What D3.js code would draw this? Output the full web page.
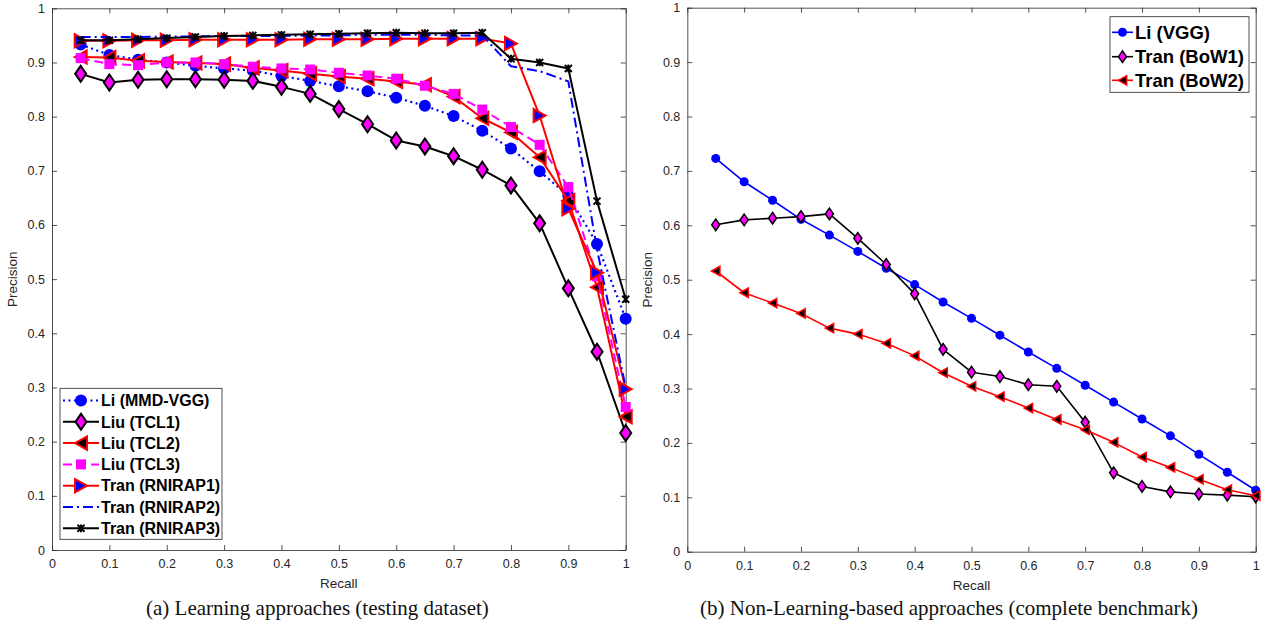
<!DOCTYPE html>
<html><head><meta charset="utf-8">
<script src="https://cdn.jsdelivr.net/npm/d3@7"></script>
<style>
body{margin:0;background:#fff;}
svg text{font-family:"Liberation Sans",Arial,sans-serif;}
</style></head>
<body><svg id="c" width="1270" height="633"></svg>
<script>
const recall = [0.05,0.1,0.15,0.2,0.25,0.3,0.35,0.4,0.45,0.5,0.55,0.6,0.65,0.7,0.75,0.8,0.85,0.9,0.95,1];
const xTicks = [0,0.1,0.2,0.3,0.4,0.5,0.6,0.7,0.8,0.9,1];
const yTicks = [0,0.1,0.2,0.3,0.4,0.5,0.6,0.7,0.8,0.9,1];

// (a) Learning approaches
const liMMD  = [0.933,0.914,0.905,0.900,0.894,0.889,0.885,0.875,0.866,0.856,0.847,0.835,0.820,0.801,0.774,0.741,0.699,0.654,0.565,0.427];
const tcl1   = [0.879,0.863,0.868,0.869,0.869,0.868,0.866,0.855,0.842,0.814,0.786,0.756,0.745,0.727,0.702,0.673,0.603,0.483,0.366,0.216];
const tcl2   = [0.910,0.909,0.903,0.901,0.899,0.897,0.890,0.885,0.879,0.874,0.870,0.865,0.859,0.837,0.797,0.771,0.725,0.645,0.485,0.246];
const tcl3   = [0.908,0.897,0.895,0.900,0.900,0.897,0.892,0.889,0.887,0.881,0.876,0.870,0.857,0.842,0.813,0.781,0.748,0.670,0.505,0.264];
const rnirap1= [0.940,0.940,0.941,0.941,0.942,0.942,0.942,0.942,0.943,0.943,0.943,0.944,0.944,0.944,0.944,0.935,0.802,0.630,0.512,0.297];
const rnirap2= [0.947,0.947,0.947,0.948,0.948,0.949,0.949,0.949,0.950,0.950,0.951,0.951,0.951,0.950,0.950,0.893,0.884,0.865,0.555,0.300];
const rnirap3= [0.941,0.941,0.943,0.945,0.947,0.949,0.950,0.951,0.952,0.953,0.954,0.955,0.954,0.954,0.955,0.907,0.900,0.889,0.644,0.463];
const namesA = ["Li (MMD-VGG)","Liu (TCL1)","Liu (TCL2)","Liu (TCL3)","Tran (RNIRAP1)","Tran (RNIRAP2)","Tran (RNIRAP3)"];

// (b) Non-learning approaches
const liVGG = [0.723,0.680,0.646,0.611,0.582,0.552,0.521,0.491,0.459,0.429,0.398,0.367,0.337,0.306,0.275,0.244,0.213,0.179,0.146,0.113];
const bow1  = [0.601,0.610,0.613,0.616,0.621,0.576,0.528,0.474,0.372,0.330,0.322,0.307,0.304,0.238,0.145,0.120,0.110,0.106,0.104,0.101];
const bow2  = [0.516,0.476,0.457,0.438,0.411,0.400,0.383,0.360,0.329,0.304,0.285,0.264,0.243,0.224,0.201,0.174,0.155,0.133,0.114,0.103];
const namesB = ["Li (VGG)","Tran (BoW1)","Tran (BoW2)"];

const captionA = "(a) Learning approaches (testing dataset)";
const captionB = "(b) Non-Learning-based approaches (complete benchmark)";

const svg = d3.select("#c");
const AX = "#262626";

function marker(g, type, cx, cy, s, fill, stroke, sw){
  let p;
  if(type==="circle"){ g.append("circle").attr("cx",cx).attr("cy",cy).attr("r",s).attr("fill",fill).attr("stroke",stroke).attr("stroke-width",sw); return; }
  if(type==="diamond") p = `M${cx},${cy-s*1.45}L${cx+s},${cy}L${cx},${cy+s*1.45}L${cx-s},${cy}Z`;
  if(type==="square") p = `M${cx-s},${cy-s}h${2*s}v${2*s}h${-2*s}Z`;
  if(type==="tleft") p = `M${cx-s},${cy}L${cx+s},${cy-s*1.1}L${cx+s},${cy+s*1.1}Z`;
  if(type==="tright") p = `M${cx+s},${cy}L${cx-s},${cy-s*1.1}L${cx-s},${cy+s*1.1}Z`;
  if(type==="x"){ g.append("path").attr("d",`M${cx-s},${cy-s}L${cx+s},${cy+s}M${cx-s},${cy+s}L${cx+s},${cy-s}M${cx},${cy-s*1.1}L${cx},${cy+s*1.1}`).attr("stroke",stroke).attr("stroke-width",sw).attr("fill","none"); return; }
  g.append("path").attr("d",p).attr("fill",fill).attr("stroke",stroke).attr("stroke-width",sw).attr("stroke-linejoin","miter");
}

function panel(x0,x1,y0,y1,series,caption,capX){
  const x = d3.scaleLinear().domain([0,1]).range([x0,x1]);
  const y = d3.scaleLinear().domain([0,1]).range([y1,y0]);
  const g = svg.append("g");
  const ax = g.append("g").attr("transform",`translate(0,${y1})`).call(d3.axisBottom(x).tickValues(xTicks).tickFormat(d=>d3.format("")(d)).tickSizeInner(-5).tickSizeOuter(0).tickPadding(9));
  const ay = g.append("g").attr("transform",`translate(${x0},0)`).call(d3.axisLeft(y).tickValues(yTicks).tickFormat(d=>d3.format("")(d)).tickSizeInner(-5).tickSizeOuter(0).tickPadding(7));
  const at = g.append("g").attr("transform",`translate(0,${y0})`).call(d3.axisTop(x).tickValues(xTicks).tickFormat("").tickSizeInner(-5).tickSizeOuter(0));
  const ar = g.append("g").attr("transform",`translate(${x1},0)`).call(d3.axisRight(y).tickValues(yTicks).tickFormat("").tickSizeInner(-5).tickSizeOuter(0));
  [ax,ay,at,ar].forEach(a=>{a.selectAll("path,line").attr("stroke",AX).attr("stroke-width",0.8);
    a.selectAll("text").attr("fill",AX).style("font-size","12.5px").style("font-family","Liberation Sans, Arial, sans-serif");});
  g.append("text").attr("x",(x0+x1)/2).attr("y",y1+38).attr("text-anchor","middle").attr("fill",AX).style("font-size","13.5px").text("Recall");
  g.append("text").attr("transform",`translate(${x0-35},${(y0+y1)/2}) rotate(-90)`).attr("text-anchor","middle").attr("fill",AX).style("font-size","13.5px").text("Precision");
  g.append("text").attr("x",capX).attr("y",615).attr("text-anchor","start").attr("fill","#111").style("font-family","Liberation Serif, Times New Roman, serif").style("font-size","21px").text(caption);
  const clip = g.append("g");
  series.forEach(s=>{
    const line = d3.line().x((d,i)=>x(recall[i])).y(d=>y(d));
    clip.append("path").datum(s.data).attr("d",line).attr("fill","none").attr("stroke",s.color).attr("stroke-width",s.lw).attr("stroke-dasharray",s.dash||null).attr("stroke-linejoin","round");
    if(s.marker){ s.data.forEach((d,i)=>marker(clip,s.marker,x(recall[i]),y(d),s.ms,s.mfill,s.mstroke,s.msw)); }
  });
  return {x,y,g};
}

const seriesA = [
  {data:liMMD,color:"#0000ff",lw:2.2,dash:"2,3.5",marker:"circle",ms:6,mfill:"#0000ff",mstroke:"#0000ff",msw:0},
  {data:tcl1,color:"#000",lw:2,marker:"diamond",ms:5.5,mfill:"#ff00ff",mstroke:"#000",msw:2},
  {data:tcl2,color:"#ff0000",lw:2,marker:"tleft",ms:6,mfill:"#000",mstroke:"#ff0000",msw:2},
  {data:tcl3,color:"#ff00ff",lw:2,dash:"9,5",marker:"square",ms:5,mfill:"#ff00ff",mstroke:"#ff00ff",msw:0},
  {data:rnirap1,color:"#ff0000",lw:2,marker:"tright",ms:6,mfill:"#0000ff",mstroke:"#ff0000",msw:2},
  {data:rnirap2,color:"#0000ff",lw:2,dash:"10,4,2,4"},
  {data:rnirap3,color:"#000",lw:2,marker:"x",ms:3.5,mfill:"none",mstroke:"#000",msw:2}
];
const seriesB = [
  {data:liVGG,color:"#0000ff",lw:1.6,marker:"circle",ms:4.5,mfill:"#0000ff",mstroke:"#0000ff",msw:0},
  {data:bow1,color:"#000",lw:1.6,marker:"diamond",ms:4,mfill:"#ff00ff",mstroke:"#000",msw:1.5},
  {data:bow2,color:"#ff0000",lw:1.6,marker:"tleft",ms:4.2,mfill:"#000",mstroke:"#ff0000",msw:1.5}
];

const pA = panel(52,625.7,8.3,550,seriesA,captionA,146);
const pB = panel(687.3,1255.7,7.7,551.7,seriesB,captionB,700);

function legend(bx,by,bw,bh,rows,series,names,lx0,lx1,tx,fs){
  const g = svg.append("g");
  g.append("rect").attr("x",bx).attr("y",by).attr("width",bw).attr("height",bh).attr("fill","#fff").attr("stroke",AX).attr("stroke-width",0.8);
  series.forEach((s,i)=>{
    const yy = rows[i];
    g.append("line").attr("x1",lx0).attr("x2",lx1).attr("y1",yy).attr("y2",yy).attr("stroke",s.color).attr("stroke-width",s.lw).attr("stroke-dasharray",s.dash||null);
    if(s.marker) marker(g,s.marker,(lx0+lx1)/2,yy,s.ms,s.mfill,s.mstroke,s.msw);
    g.append("text").attr("x",tx).attr("y",yy).attr("dy","0.36em").attr("fill","#000").style("font-weight","bold").style("font-size",fs+"px").text(names[i]);
  });
}
legend(60,388.3,162,151,[400.5,421.8,443.1,464.4,485.7,507,528.3],seriesA,namesA,63,99,101,16);
legend(1110,16.7,139,75.6,[32.3,56.7,80.3],seriesB,namesB,1112,1133,1135,18.5);
</script></body></html>
